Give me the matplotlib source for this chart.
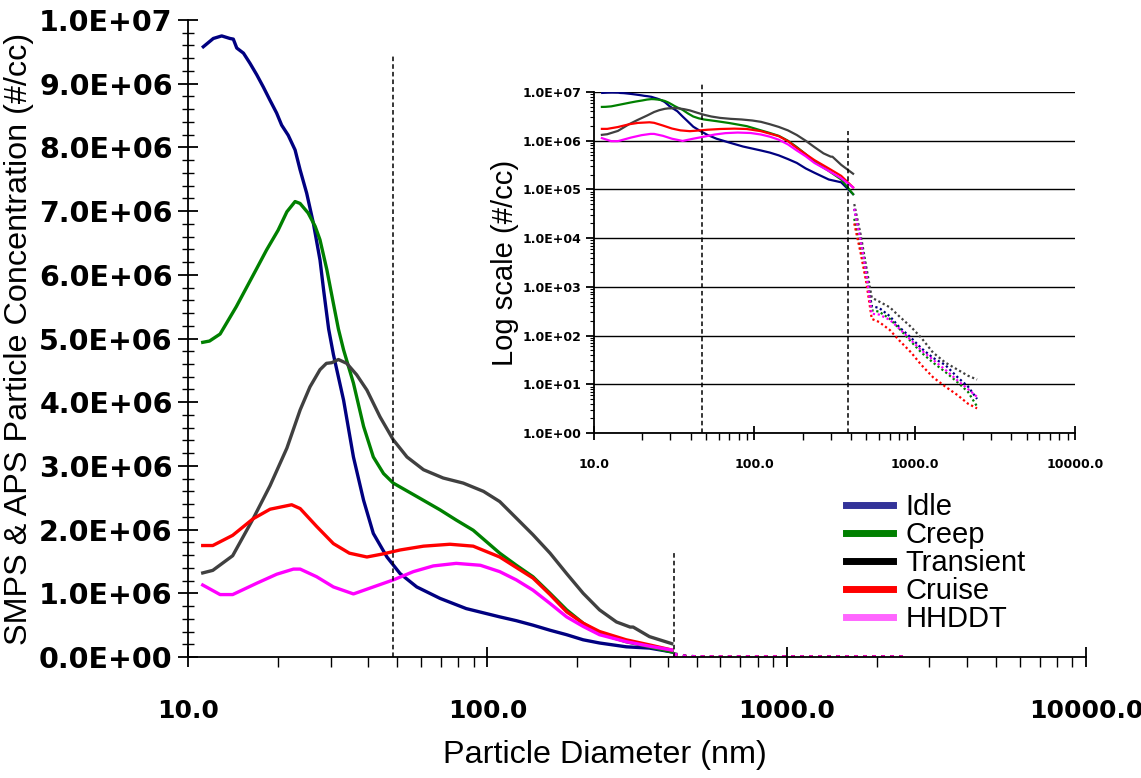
import numpy as np
import matplotlib
matplotlib.use("Agg")
import matplotlib.pyplot as plt
from matplotlib.ticker import FixedLocator, FuncFormatter, LogLocator, NullFormatter, MultipleLocator
from matplotlib.lines import Line2D

# ---- SMPS data (solid lines), diameter in nm, concentration in #/cc ----
idle_d = [11.25, 12.15, 12.96, 13.81, 14.17, 14.55, 15.32, 16.11, 16.97, 17.84, 18.79, 19.77, 20.55,
          21.62, 22.79, 23.68, 24.92, 26.23, 27.61, 28.4, 29.5, 30.6, 33.1, 35.7, 38.6, 41.6, 46.2,
          51.1, 58.1, 69.5, 85.0, 110, 125, 142, 162, 184, 209, 237, 291, 348, 413]
idle_n = [9.58e6, 9.71e6, 9.75e6, 9.71e6, 9.70e6, 9.56e6, 9.48e6, 9.32e6, 9.14e6, 8.95e6, 8.74e6,
          8.54e6, 8.35e6, 8.19e6, 7.96e6, 7.65e6, 7.28e6, 6.81e6, 6.23e6, 5.75e6, 5.15e6, 4.75e6,
          4.03e6, 3.14e6, 2.46e6, 1.94e6, 1.57e6, 1.31e6, 1.10e6, 0.92e6, 0.76e6, 0.63e6, 0.57e6,
          0.50e6, 0.42e6, 0.35e6, 0.27e6, 0.22e6, 0.16e6, 0.14e6, 0.08e6]

creep_d = [11.2, 11.8, 12.8, 14.5, 16.97, 18.3, 20.0, 21.4, 22.79, 23.68, 25.2, 26.6, 27.6, 29.1,
           30.6, 31.8, 33.1, 35.7, 38.6, 41.6, 45.0, 48.5, 58.1, 69.5, 78.7, 89.7, 110, 125, 142,
           162, 184, 209, 237, 291, 348, 413]
creep_n = [4.94e6, 4.96e6, 5.07e6, 5.50e6, 6.10e6, 6.39e6, 6.70e6, 6.99e6, 7.15e6, 7.12e6, 6.97e6,
           6.76e6, 6.55e6, 6.08e6, 5.55e6, 5.15e6, 4.82e6, 4.30e6, 3.62e6, 3.14e6, 2.88e6, 2.73e6,
           2.52e6, 2.31e6, 2.15e6, 1.99e6, 1.63e6, 1.44e6, 1.26e6, 1.00e6, 0.74e6, 0.53e6, 0.37e6,
           0.24e6, 0.16e6, 0.08e6]

trans_d = [11.2, 12.1, 14.1, 16.5, 18.8, 21.4, 23.7, 25.55, 27.6, 29.0, 30.2, 31.8, 33.9, 36.6,
           39.6, 43.8, 48.5, 53.9, 61.2, 71.2, 83.1, 97.1, 110, 125, 142, 162, 184, 209, 237, 270,
           300, 307, 348, 413]
trans_n = [1.32e6, 1.36e6, 1.59e6, 2.17e6, 2.69e6, 3.28e6, 3.88e6, 4.24e6, 4.51e6, 4.61e6, 4.62e6,
           4.67e6, 4.61e6, 4.43e6, 4.19e6, 3.77e6, 3.41e6, 3.14e6, 2.94e6, 2.81e6, 2.73e6, 2.60e6,
           2.44e6, 2.18e6, 1.92e6, 1.63e6, 1.31e6, 1.00e6, 0.74e6, 0.55e6, 0.47e6, 0.47e6, 0.32e6,
           0.21e6]

cruise_d = [11.2, 12.1, 14.1, 16.5, 18.8, 22.2, 23.7, 26.9, 30.6, 34.6, 39.6, 45.0, 51.1, 61.2,
            75.0, 89.7, 110, 142, 162, 184, 209, 237, 291, 348, 413]
cruise_n = [1.75e6, 1.75e6, 1.91e6, 2.17e6, 2.32e6, 2.39e6, 2.33e6, 2.05e6, 1.78e6, 1.63e6, 1.57e6,
            1.62e6, 1.68e6, 1.74e6, 1.77e6, 1.74e6, 1.57e6, 1.24e6, 0.98e6, 0.71e6, 0.53e6, 0.40e6,
            0.27e6, 0.19e6, 0.11e6]

hhddt_d = [11.2, 12.8, 14.1, 17.0, 19.8, 22.5, 23.7, 26.9, 30.6, 35.7, 41.6, 48.5, 56.6, 66.0,
           78.7, 94.8, 110, 125, 142, 162, 184, 209, 237, 291, 348, 413]
hhddt_n = [1.13e6, 0.98e6, 0.98e6, 1.16e6, 1.30e6, 1.38e6, 1.38e6, 1.26e6, 1.10e6, 0.99e6, 1.10e6,
           1.21e6, 1.34e6, 1.43e6, 1.47e6, 1.44e6, 1.34e6, 1.21e6, 1.05e6, 0.84e6, 0.63e6, 0.48e6,
           0.35e6, 0.24e6, 0.17e6, 0.11e6]

# ---- APS data (dotted lines) ----
aps_d = [420, 460, 500, 540, 600, 700, 800, 950, 1100, 1300, 1550, 1850, 2150, 2450]
idle_aps = [4.0e4, 1.0e4, 2.0e3, 400, 370, 250, 150, 90, 55, 35, 25, 14, 9, 5]
creep_aps = [2.5e4, 6.0e3, 1.5e3, 330, 310, 220, 140, 75, 45, 28, 18, 11, 7, 3.5]
trans_aps = [5.0e4, 1.2e4, 2.5e3, 600, 500, 380, 250, 150, 90, 45, 28, 20, 15, 12.5]
cruise_aps = [2.0e4, 5.0e3, 1.2e3, 220, 190, 130, 80, 45, 25, 14, 9, 6, 4, 3.2]
hhddt_aps = [4.0e4, 9.0e3, 1.8e3, 280, 270, 210, 140, 80, 50, 32, 20, 12, 8, 5.5]

labels = ["Idle", "Creep", "Transient", "Cruise", "HHDDT"]
colors = ["#000080", "#008000", "#404040", "#ff0000", "#ff00ff"]
legend_colors = ["#333399", "#008000", "#000000", "#ff0000", "#ff66ff"]

smps = [(idle_d, idle_n), (creep_d, creep_n), (trans_d, trans_n), (cruise_d, cruise_n), (hhddt_d, hhddt_n)]
aps = [idle_aps, creep_aps, trans_aps, cruise_aps, hhddt_aps]

x_ticks = [10, 100, 1000, 10000]
x_ticklabels = ["10.0", "100.0", "1000.0", "10000.0"]

W, H = 1141, 778
fig = plt.figure(figsize=(W / 100, H / 100), dpi=100)

sci = FuncFormatter(lambda v, p: f"{v:.1E}")

# ---------------- main axes ----------------
ax = fig.add_axes([188 / W, 1 - 657 / H, (1086 - 188) / W, (657 - 20) / H])
for (d, n), c in zip(smps, colors):
    ax.plot(d, n, color=c, lw=2.4, solid_joinstyle="round")
for a, c in zip(aps, colors):
    ax.plot(aps_d, a, color=c, lw=2.5, ls=(0, (1, 1.6)))

ax.plot([48.5, 48.5], [0, 9.45e6], color="black", lw=1.1, ls=(0, (3, 2)))
ax.plot([420, 420], [0, 1.63e6], color="black", lw=1.1, ls=(0, (3, 2)))

ax.set_xscale("log")
ax.set_xlim(10, 10000)
ax.set_ylim(0, 1e7)
ax.xaxis.set_major_locator(FixedLocator(x_ticks))
ax.set_xticklabels(x_ticklabels)
ax.xaxis.set_minor_locator(LogLocator(base=10, subs=np.arange(2, 10)))
ax.xaxis.set_minor_formatter(NullFormatter())
ax.yaxis.set_major_locator(MultipleLocator(1e6))
ax.yaxis.set_minor_locator(MultipleLocator(2e5))
ax.yaxis.set_major_formatter(sci)

for s in ["top", "right"]:
    ax.spines[s].set_visible(False)
for s in ["left", "bottom"]:
    ax.spines[s].set_linewidth(1.3)

ax.tick_params(axis="x", which="major", direction="inout", length=14, width=1.3, pad=23, labelsize=18)
ax.tick_params(axis="x", which="minor", direction="out", length=7, width=1.0)
ax.tick_params(axis="y", which="major", direction="inout", length=14, width=1.3, pad=4, labelsize=20.5)
ax.tick_params(axis="y", which="minor", direction="inout", length=8, width=1.0)
for t in ax.get_xticklabels() + ax.get_yticklabels():
    t.set_fontfamily("DejaVu Sans")
    t.set_fontweight("bold")

ax.set_xlabel("Particle Diameter (nm)", fontsize=23.3, family="Liberation Sans")
ax.xaxis.set_label_coords((605 - 188) / 898, -0.13)
ax.set_ylabel("SMPS & APS Particle Concentration (#/cc)", fontsize=23.3, family="Liberation Sans")
ax.yaxis.set_label_coords(-0.172, 0.5)

# ---------------- inset ----------------
ins = fig.add_axes([594 / W, 1 - 433 / H, (1075 - 594) / W, (433 - 92) / H])
ins.set_xscale("log")
ins.set_yscale("log")
ins.set_xlim(10, 10000)
ins.set_ylim(1, 1e7)
ins.grid(True, axis="y", which="major", color="black", lw=1.0)
ins.set_axisbelow(True)
for (d, n), c in zip(smps, colors):
    ins.plot(d, n, color=c, lw=1.6)
for a, c in zip(aps, colors):
    ins.plot(aps_d, a, color=c, lw=1.6, ls=(0, (1, 1.2)))
ins.plot([47.5, 47.5], [1, 1.55e7], color="black", lw=1.1, ls=(0, (3, 2)), clip_on=False)
ins.plot([385, 385], [1, 1.6e6], color="black", lw=1.1, ls=(0, (3, 2)))

ins.xaxis.set_major_locator(FixedLocator(x_ticks))
ins.set_xticklabels(x_ticklabels)
ins.xaxis.set_minor_locator(LogLocator(base=10, subs=np.arange(2, 10)))
ins.xaxis.set_minor_formatter(NullFormatter())
ins.yaxis.set_major_locator(LogLocator(base=10, numticks=10))
ins.yaxis.set_minor_locator(LogLocator(base=10, subs=np.arange(2, 10), numticks=10))
ins.yaxis.set_minor_formatter(NullFormatter())
ins.yaxis.set_major_formatter(sci)

for s in ["top", "right"]:
    ins.spines[s].set_visible(False)
for s in ["left", "bottom"]:
    ins.spines[s].set_linewidth(1.3)
ins.tick_params(axis="x", which="major", direction="inout", length=10, width=1.3, pad=13, labelsize=9)
ins.tick_params(axis="x", which="minor", direction="out", length=5, width=1.0)
ins.tick_params(axis="y", which="major", direction="out", length=6, width=1.3, pad=3, labelsize=9)
ins.tick_params(axis="y", which="minor", direction="out", length=3, width=0.8)
for t in ins.get_xticklabels() + ins.get_yticklabels():
    t.set_fontfamily("DejaVu Sans")
    t.set_fontweight("bold")
ins.set_ylabel("Log scale (#/cc)", fontsize=21, family="Liberation Sans")
ins.yaxis.set_label_coords(-0.155, 0.5)

# ---------------- legend ----------------
handles = [Line2D([], [], color=c, lw=5) for c in legend_colors]
fig.legend(handles, labels, loc="upper left", bbox_to_anchor=(846 / W, 1 - 493 / H),
           frameon=False, prop={"family": "Liberation Sans", "size": 21},
           handlelength=1.6, handletextpad=0.45, labelspacing=0.0, borderpad=0, borderaxespad=0)

fig.savefig("out.png", dpi=100)
